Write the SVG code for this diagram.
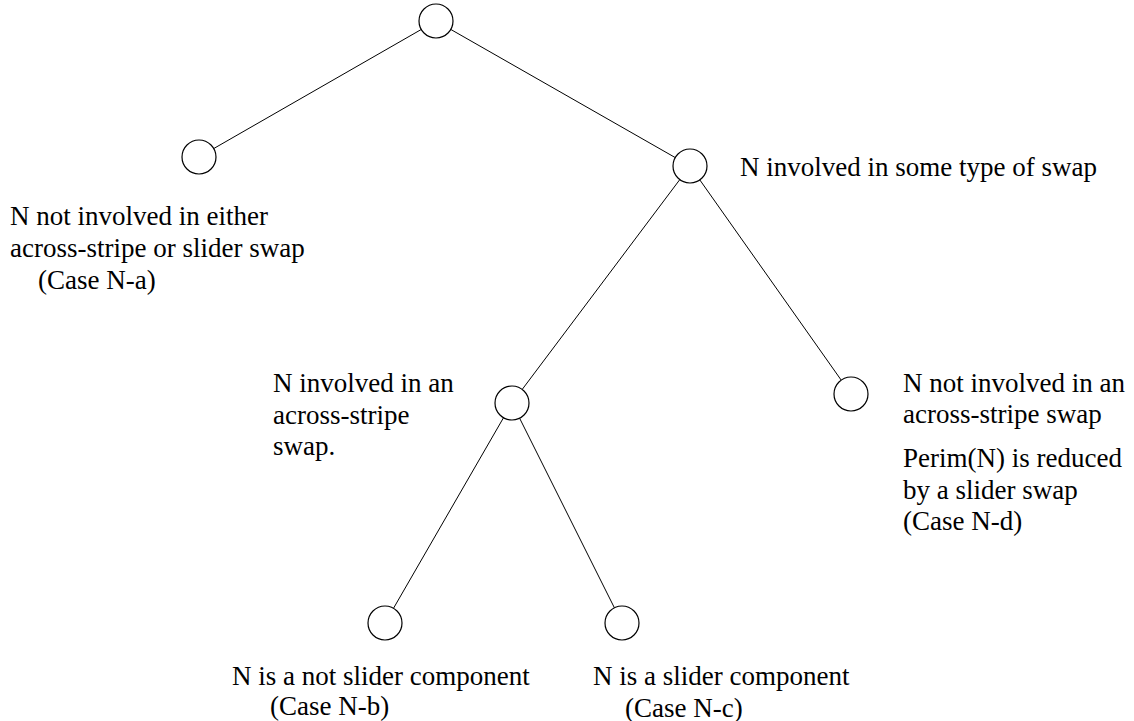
<svg xmlns="http://www.w3.org/2000/svg" width="1134" height="721" viewBox="0 0 1134 721">
  <style>
    .edge { stroke: #000; stroke-width: 1; fill: none; }
    .node { stroke: #000; stroke-width: 1.2; fill: #fff; }
    text { font-family: 'Liberation Serif', 'Times New Roman', serif; font-size: 27px; fill: #000; }
  </style>
  <rect width="1134" height="721" fill="#fff"/>
  <!-- tree edges, drawn centre to centre; the circles cover the ends -->
  <g id="connectors">
    <line class="edge" x1="436" y1="21" x2="199" y2="157"/>
    <line class="edge" x1="436" y1="21" x2="690" y2="166"/>
    <line class="edge" x1="690" y1="166" x2="512" y2="403"/>
    <line class="edge" x1="690" y1="166" x2="851" y2="394"/>
    <line class="edge" x1="512" y1="403" x2="385" y2="623"/>
    <line class="edge" x1="512" y1="403" x2="622" y2="623"/>
  </g>
  <g id="root"><circle class="node" cx="436" cy="21" r="17"/></g>
  <g id="case-a">
    <circle class="node" cx="199" cy="157" r="17"/>
    <text x="10" y="225">N not involved in either</text>
    <text x="10" y="257">across-stripe or slider swap</text>
    <text x="38" y="289">(Case N-a)</text>
  </g>
  <g id="swap">
    <circle class="node" cx="690" cy="166" r="17"/>
    <text x="740" y="176">N involved in some type of swap</text>
  </g>
  <g id="across-stripe">
    <circle class="node" cx="512" cy="403" r="17"/>
    <text x="273" y="392">N involved in an</text>
    <text x="273" y="424">across-stripe</text>
    <text x="273" y="455">swap.</text>
  </g>
  <g id="case-d">
    <circle class="node" cx="851" cy="394" r="17"/>
    <text x="903" y="392">N not involved in an</text>
    <text x="903" y="423">across-stripe swap</text>
    <text x="903" y="467">Perim(N) is reduced</text>
    <text x="903" y="499">by a slider swap</text>
    <text x="903" y="530">(Case N-d)</text>
  </g>
  <g id="case-b">
    <circle class="node" cx="385" cy="623" r="17"/>
    <text x="232" y="685">N is a not slider component</text>
    <text x="270" y="715">(Case N-b)</text>
  </g>
  <g id="case-c">
    <circle class="node" cx="622" cy="623" r="17"/>
    <text x="593" y="685">N is a slider component</text>
    <text x="625" y="717">(Case N-c)</text>
  </g>
</svg>
